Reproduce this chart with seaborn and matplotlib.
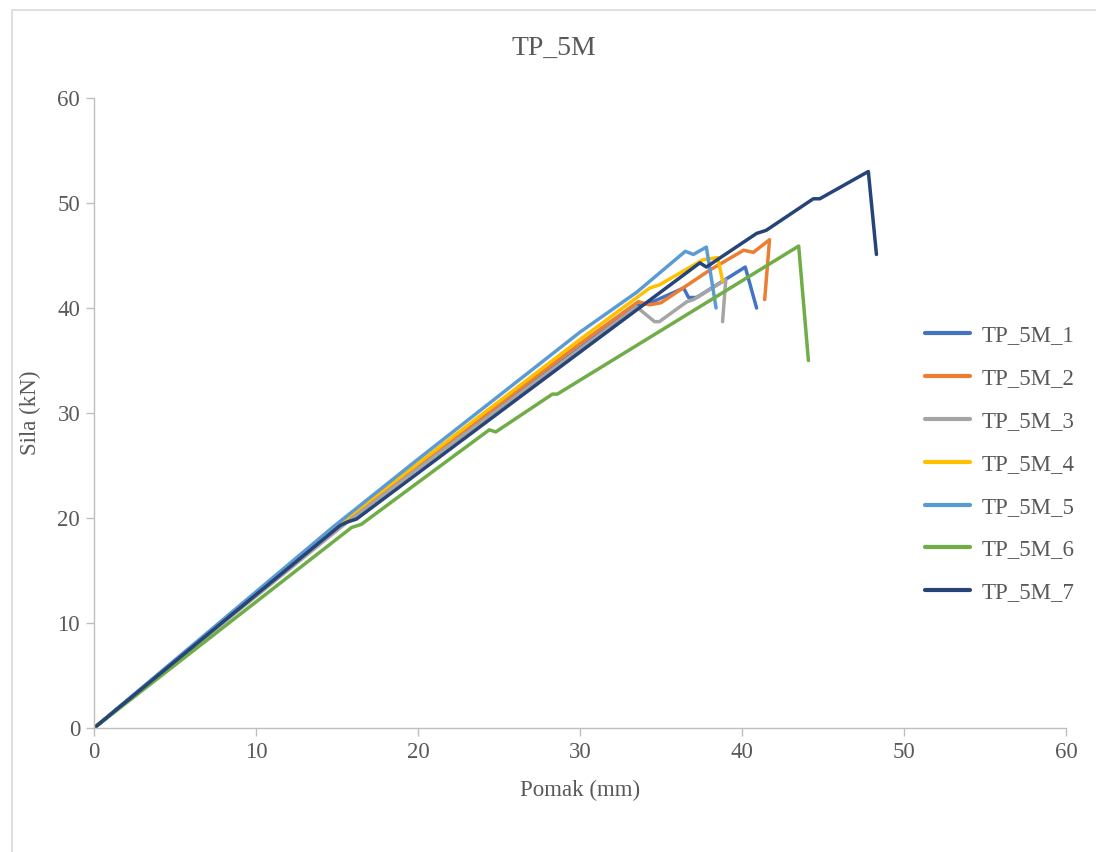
import matplotlib
matplotlib.use("Agg")
import matplotlib.pyplot as plt
import pandas as pd
import seaborn as sns
from matplotlib.patches import Rectangle

series_names = ["TP_5M_1", "TP_5M_2", "TP_5M_3", "TP_5M_4", "TP_5M_5", "TP_5M_6", "TP_5M_7"]

tp1_x = [0, 15.0, 20, 30, 33.5, 34.5, 36.4, 36.7, 37.2, 40.2, 40.9]
tp1_y = [0, 19.2, 24.8, 36.2, 40.2, 40.6, 41.9, 41.0, 41.0, 43.9, 40.0]

tp2_x = [0, 15.2, 20, 30, 33.6, 34.3, 35.0, 38.0, 40.1, 40.7, 41.7, 41.4]
tp2_y = [0, 19.4, 25.0, 36.6, 40.6, 40.3, 40.5, 43.6, 45.5, 45.3, 46.5, 40.8]

tp3_x = [0, 15.3, 20, 30, 33.5, 34.6, 34.9, 36.6, 37.0, 39.0, 38.8]
tp3_y = [0, 19.2, 24.7, 36.1, 40.1, 38.7, 38.7, 40.6, 40.8, 42.7, 38.7]

tp4_x = [0, 15.1, 20, 30, 34.3, 34.9, 37.6, 38.5, 38.8]
tp4_y = [0, 19.4, 25.2, 37.0, 41.9, 42.2, 44.6, 44.8, 42.6]

tp5_x = [0, 14.8, 20, 30, 33.5, 36.5, 37.0, 37.8, 38.4]
tp5_y = [0, 19.2, 25.6, 37.7, 41.5, 45.4, 45.1, 45.8, 40.0]

tp6_x = [0, 15.9, 16.5, 24.4, 24.8, 28.3, 28.6, 43.5, 44.1]
tp6_y = [0, 19.1, 19.4, 28.4, 28.2, 31.8, 31.8, 45.9, 35.0]

tp7_x = [0, 15.2, 15.6, 16.2, 30, 37.4, 37.8, 40.9, 41.5, 44.4, 44.8, 47.8, 48.3]
tp7_y = [0, 19.3, 19.6, 19.9, 35.8, 44.3, 43.9, 47.1, 47.4, 50.4, 50.4, 53.0, 45.1]

all_x = [tp1_x, tp2_x, tp3_x, tp4_x, tp5_x, tp6_x, tp7_x]
all_y = [tp1_y, tp2_y, tp3_y, tp4_y, tp5_y, tp6_y, tp7_y]

colors = ["#4472C4", "#ED7D31", "#A5A5A5", "#FFC000", "#5B9BD5", "#70AD47", "#264478"]

rows = []
for name, xs, ys in zip(series_names, all_x, all_y):
    for x, y in zip(xs, ys):
        rows.append({"Serija": name, "Pomak": x, "Sila": y})
df = pd.DataFrame(rows)

sns.set_style("white")
plt.rcParams["font.family"] = ["Liberation Serif", "DejaVu Serif"]
text_col = "#595959"
fs = 16.5

fig = plt.figure(figsize=(10.96, 8.52), dpi=100)
ax = fig.add_axes([0.0858, 0.1455, 0.8868, 0.7395])

sns.lineplot(data=df, x="Pomak", y="Sila", hue="Serija", palette=colors,
             sort=False, estimator=None, units="Serija", linewidth=2.5, ax=ax)

ax.set_xlim(0, 60)
ax.set_ylim(0, 60)
ax.set_xticks(range(0, 61, 10))
ax.set_yticks(range(0, 61, 10))
for s in ["top", "right"]:
    ax.spines[s].set_visible(False)
for s in ["left", "bottom"]:
    ax.spines[s].set_color("#BFBFBF")
    ax.spines[s].set_linewidth(1.0)
ax.tick_params(axis="both", which="both", direction="out", length=6, width=1,
               color="#BFBFBF", labelsize=fs, labelcolor=text_col, pad=4,
               bottom=True, left=True)

ax.set_xlabel("Pomak (mm)", fontsize=fs, color=text_col, labelpad=12)
ax.set_ylabel("Sila (kN)", fontsize=fs, color=text_col, labelpad=12)
fig.text(0.505, 0.943, "TP_5M", ha="center", va="center", fontsize=20, color=text_col)

handles, labels = ax.get_legend_handles_labels()
ax.get_legend().remove()
leg = fig.legend(handles, labels, loc="center left", bbox_to_anchor=(0.844, 0.455),
                 bbox_transform=fig.transFigure, frameon=False, fontsize=fs,
                 handlelength=1.95, handletextpad=0.5, labelspacing=0.95,
                 borderpad=0, borderaxespad=0)
for t in leg.get_texts():
    t.set_color(text_col)
for h in leg.get_lines():
    h.set_linewidth(3.0)

fig.patches.append(Rectangle((12 / 1096, -0.01), 1.0, 1 - 10 / 852 + 0.01,
                             transform=fig.transFigure, fill=False,
                             edgecolor="#D9D9D9", linewidth=1.2))

fig.savefig("out.png", dpi=100)
